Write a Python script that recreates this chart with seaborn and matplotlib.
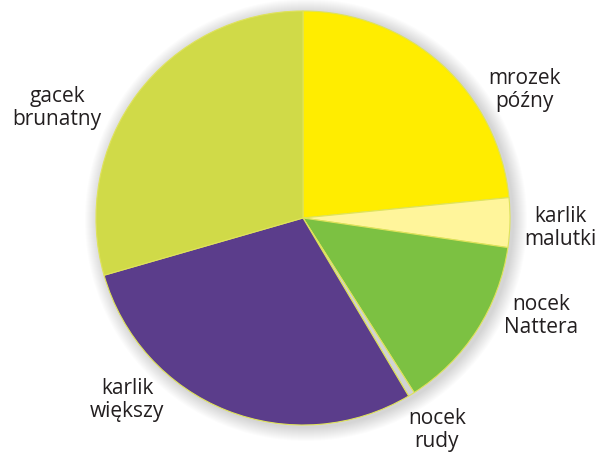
import matplotlib
matplotlib.use("Agg")
import matplotlib.pyplot as plt
import seaborn as sns
from matplotlib.patches import Circle

sns.set_theme(style="white")
plt.rcParams["font.family"] = ["Open Sans", "DejaVu Sans"]

# Species shares (%), clockwise from 12 o'clock
species = ["mrozek\npóźny", "karlik\nmalutki", "nocek\nNattera", "nocek\nrudy",
           "karlik\nwiększy", "gacek\nbrunatny"]
shares = [23.43, 3.85, 13.7, 0.5, 29.06, 29.46]
colors = ["#ffed00", "#fff59b", "#7cc142", "#d1d3d4", "#5b3d8b", "#d0da48"]

# Label anchor points (pixel coords, y measured from top)
label_x = [524, 560, 541, 437, 127, 57]
label_y = [90, 228, 316, 430, 400, 108]

W, H = 601, 457
fig = plt.figure(figsize=(W / 100, H / 100), dpi=100)
ax = fig.add_axes([0, 0, 1, 1])

cx, cy, r = 303, H - 218, 207

# soft drop shadow around the disc
for i in range(14):
    ax.add_patch(Circle((cx + 3, cy - 2), r + 14 - i, color="#000000",
                        alpha=0.013, lw=0, zorder=0))

ax.pie(shares, colors=sns.color_palette(colors), startangle=90, counterclock=False,
       center=(cx, cy), radius=r, frame=True,
       wedgeprops=dict(edgecolor="#dfe35a", linewidth=0.8))
ax.set_xlim(0, W)
ax.set_ylim(0, H)
ax.set_aspect("equal")
ax.axis("off")

for name, x, y in zip(species, label_x, label_y):
    ax.text(x, H - y, name, ha="center", va="center", fontsize=15,
            color="#231f20", linespacing=1.1)

fig.savefig("out.png", dpi=100, facecolor="white")
